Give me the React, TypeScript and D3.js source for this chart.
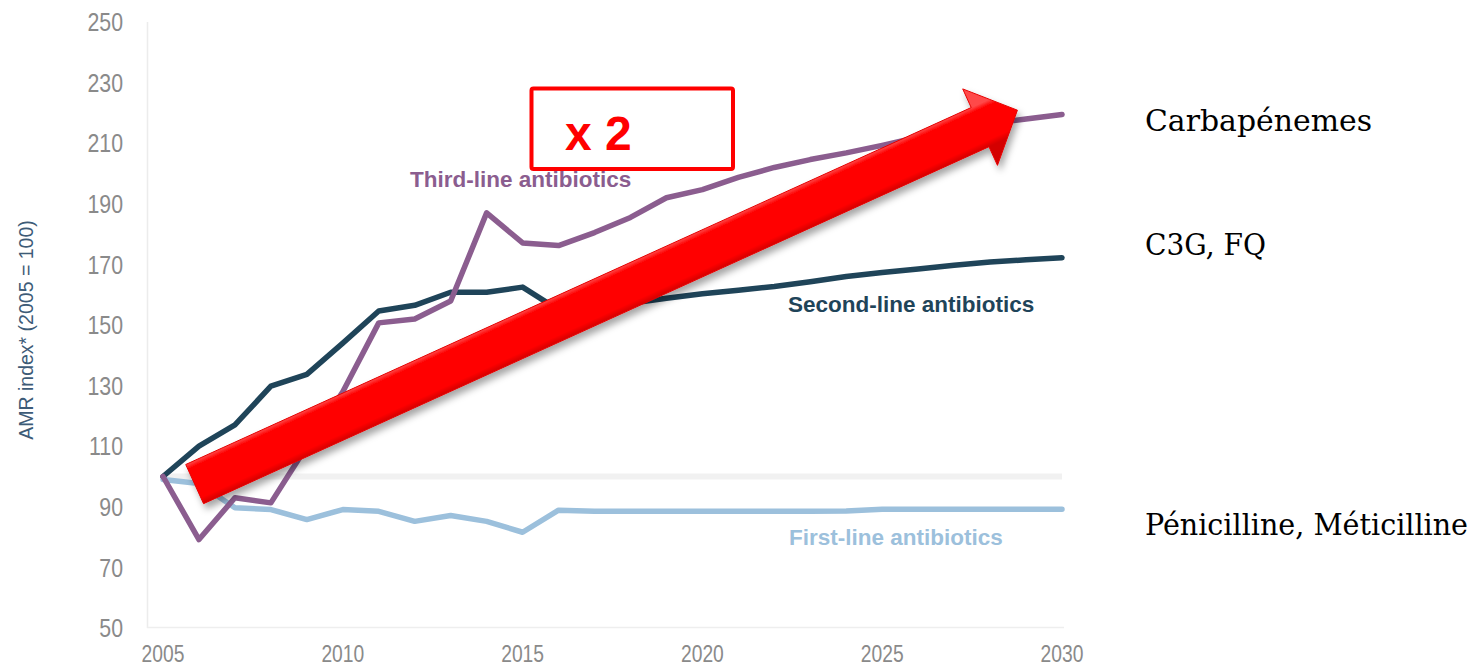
import React from "react";
import * as d3 from "d3";

// ---- data ----
const years = d3.range(2005, 2031);
const firstLine = [99, 97.7, 89.7, 89.1, 85.8, 89.1, 88.5, 85.2, 87.1, 85.2, 81.6, 88.9, 88.5, 88.5, 88.5, 88.5, 88.5, 88.5, 88.5, 88.6, 89.2, 89.2, 89.2, 89.2, 89.2, 89.2];
const secondLine = [100, 110, 117, 129.8, 133.7, 144, 154.6, 156.5, 160.8, 160.8, 162.5, 155, 156, 157.2, 158.8, 160.3, 161.5, 162.7, 164.3, 166, 167.3, 168.5, 169.7, 170.8, 171.5, 172.2];
const thirdLine = [100, 79.2, 93, 91.3, 110, 128, 150.7, 152, 157.9, 187, 177.1, 176.2, 180.5, 185.5, 192, 194.7, 198.7, 202, 204.6, 206.8, 209.3, 212, 214.4, 216.5, 218, 219.5];
const yTicks = [50, 70, 90, 110, 130, 150, 170, 190, 210, 230, 250];
const xTicks = [2005, 2010, 2015, 2020, 2025, 2030];
const seriesNames = ["First-line antibiotics", "Second-line antibiotics", "Third-line antibiotics"];
const seriesColors = ["#9cc0dc", "#1f4459", "#8b5d8f"];
const rightLabels = ["Carbapénemes", "C3G, FQ", "Pénicilline, Méticilline"];
const yTitle = "AMR index* (2005 = 100)";
const boxText = "x 2";
// arrow annotation in data units: tail center and tip
const arrowTail = [2005.88, 97.5];
const arrowTip = [2028.76, 220.9];

const W = 1474;
const H = 669;

export default function App() {
  const x = d3.scaleLinear().domain([2005, 2030]).range([163, 1062]);
  const y = d3.scaleLinear().domain([50, 250]).range([628, 22]);
  const line = d3
    .line<number>()
    .x((_, i) => x(years[i]))
    .y((d) => y(d));

  const series = [firstLine, secondLine, thirdLine];

  // arrow geometry
  const tx = x(arrowTail[0]);
  const ty = y(arrowTail[1]);
  const px = x(arrowTip[0]);
  const py = y(arrowTip[1]);
  const dx = px - tx;
  const dy = py - ty;
  const L = Math.hypot(dx, dy);
  const ux = dx / L;
  const uy = dy / L;
  const nx = -uy;
  const ny = ux;
  const sw = 21.5;
  const hl = 41;
  const hw = 42;
  const pt = (a: number, b: number) => [tx + ux * a + nx * b, ty + uy * a + ny * b];
  const arrowPts = [
    pt(0, -sw),
    pt(L - hl, -sw),
    pt(L - hl, -hw),
    pt(L, 0),
    pt(L - hl, hw),
    pt(L - hl, sw),
    pt(0, sw),
  ];
  const mid = pt(L * 0.5, 0);
  const gA = [mid[0] + nx * -sw, mid[1] + ny * -sw];
  const gB = [mid[0] + nx * sw, mid[1] + ny * sw];

  const labelPos = [
    { x: 789, y: 545 },
    { x: 788, y: 311.5 },
    { x: 410, y: 187 },
  ];
  const rightPos = [
    { y: 130.7, w: 227 },
    { y: 255, w: 121 },
    { y: 535, w: 323 },
  ];

  return (
    <svg width={W} height={H} style={{ position: "absolute", left: 0, top: 0, background: "#fff" }}>
      <defs>
        <filter id="shadow" x="-10%" y="-10%" width="120%" height="130%">
          <feDropShadow dx="3" dy="5" stdDeviation="3.5" floodColor="#000" floodOpacity="0.35" />
        </filter>
        <linearGradient id="arrowGrad" gradientUnits="userSpaceOnUse" x1={gA[0]} y1={gA[1]} x2={gB[0]} y2={gB[1]}>
          <stop offset="0" stopColor="#ff4a4a" />
          <stop offset="0.12" stopColor="#ff0000" />
          <stop offset="0.85" stopColor="#ff0000" />
          <stop offset="1" stopColor="#d40000" />
        </linearGradient>
      </defs>

      {/* axis frame */}
      <line x1={147.5} x2={147.5} y1={y(250)} y2={y(50)} stroke="#ececec" strokeWidth={1.5} />
      <line x1={147} x2={x(2030) + 2} y1={y(50) - 0.5} y2={y(50) - 0.5} stroke="#eeeeee" strokeWidth={1.5} />

      {/* y tick labels */}
      {yTicks.map((t) => (
        <text
          key={t}
          transform={`translate(123,${y(t)}) scale(0.82,1)`}
          textAnchor="end"
          dominantBaseline="central"
          fontFamily="'Liberation Sans', Arial, sans-serif"
          fontSize={26}
          fill="#8a8a8a"
        >
          {t}
        </text>
      ))}
      {/* x tick labels */}
      {xTicks.map((t) => (
        <text
          key={t}
          transform={`translate(${x(t)},662) scale(0.82,1)`}
          textAnchor="middle"
          fontFamily="'Liberation Sans', Arial, sans-serif"
          fontSize={23.5}
          fill="#8a8a8a"
        >
          {t}
        </text>
      ))}
      {/* y title */}
      <text
        transform={`translate(33,330) rotate(-90)`}
        textAnchor="middle"
        fontFamily="'Liberation Sans', Arial, sans-serif"
        fontSize={19.5}
        fill="#3d5b77"
      >
        {yTitle}
      </text>

      {/* baseline 100 */}
      <line x1={x(2005)} x2={x(2030)} y1={y(100)} y2={y(100)} stroke="#f1f1f1" strokeWidth={6} />

      {/* series */}
      {series.map((s, i) => (
        <path
          key={i}
          d={line(s) || ""}
          fill="none"
          stroke={seriesColors[i]}
          strokeWidth={5.5}
          strokeLinejoin="round"
          strokeLinecap="round"
        />
      ))}

      {/* series labels */}
      {seriesNames.map((n, i) => (
        <text
          key={n}
          x={labelPos[i].x}
          y={labelPos[i].y}
          fontFamily="'Liberation Sans', Arial, sans-serif"
          fontWeight="bold"
          fontSize={22.5}
          fill={seriesColors[i]}
        >
          {n}
        </text>
      ))}

      {/* red box */}
      <rect x={531.5} y={88.5} width={201.5} height={80.5} rx={2} fill="#fff" stroke="#ff0000" strokeWidth={4} />
      <text x={565} y={150} fontFamily="'Liberation Sans', Arial, sans-serif" fontWeight="bold" fontSize={48} fill="#ff0000">
        {boxText}
      </text>

      {/* big arrow */}
      <polygon
        points={arrowPts.map((p) => p.join(",")).join(" ")}
        fill="url(#arrowGrad)"
        stroke="#e60000"
        strokeWidth={1}
        strokeLinejoin="miter"
        filter="url(#shadow)"
      />

      {/* right labels */}
      {rightLabels.map((t, i) => (
        <text
          key={t}
          x={1145}
          y={rightPos[i].y}
          textLength={rightPos[i].w}
          lengthAdjust="spacingAndGlyphs"
          fontFamily="'DejaVu Serif', serif"
          fontSize={29}
          fill="#000"
        >
          {t}
        </text>
      ))}
    </svg>
  );
}
